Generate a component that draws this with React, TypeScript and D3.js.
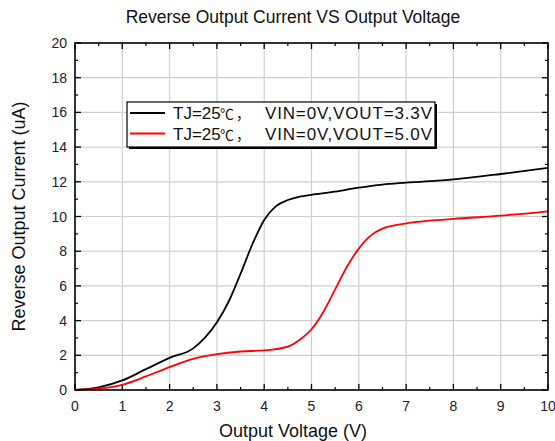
import React from 'react';
import * as d3 from 'd3';

// Output voltage (V) sample points
const voltage33 = [0, 0.5, 1, 1.5, 2, 2.5, 3, 3.25, 3.5, 3.75, 4, 4.25, 4.5, 4.75, 5, 5.5, 6, 6.5, 7, 8, 9, 10];
const current33 = [0, 0.15, 0.55, 1.2, 1.85, 2.4, 3.9, 5.1, 6.7, 8.4, 9.8, 10.6, 10.95, 11.15, 11.25, 11.43, 11.66, 11.84, 11.95, 12.14, 12.45, 12.8];

const voltage50 = [0, 0.5, 1, 1.5, 2, 2.5, 3, 3.5, 4, 4.5, 4.8, 5, 5.25, 5.5, 5.75, 6, 6.25, 6.5, 7, 8, 9, 10];
const current50 = [0, 0.08, 0.3, 0.78, 1.32, 1.8, 2.07, 2.22, 2.28, 2.5, 3.0, 3.5, 4.5, 5.8, 7.1, 8.15, 8.9, 9.3, 9.6, 9.86, 10.05, 10.3];

const xTicks = [0, 1, 2, 3, 4, 5, 6, 7, 8, 9, 10];
const yTicks = [0, 2, 4, 6, 8, 10, 12, 14, 16, 18, 20];

const seriesVout = ['3.3V', '5.0V'];
const seriesColors = ['#000000', '#ff0000'];

const W = 555;
const H = 441;
const left = 75, right = 548, top = 43, bottom = 390;

const App = () => {
    const x = d3.scaleLinear().domain([0, 10]).range([left, right]);
    const y = d3.scaleLinear().domain([0, 20]).range([bottom, top]);

    const line = d3.line<[number, number]>()
        .x(d => x(d[0]))
        .y(d => y(d[1]))
        .curve(d3.curveMonotoneX);

    const series = [
        voltage33.map((v, i) => [v, current33[i]] as [number, number]),
        voltage50.map((v, i) => [v, current50[i]] as [number, number]),
    ];

    const xMinor = d3.range(0.5, 10, 1);
    const yMinor = d3.range(1, 20, 2);
    const font = 'Arial, "Liberation Sans", sans-serif';
    const cjk = '"Noto Sans CJK SC", sans-serif';

    return (
        <svg width={W} height={H} style={{ position: 'absolute', left: 0, top: 0, background: '#fff' }}
            fontFamily={font}>
            <rect width={W} height={H} fill="#fff" />
            <text x={293} y={23} textAnchor="middle" fontSize={17.5} fill="#111">
                Reverse Output Current VS Output Voltage
            </text>

            {/* grid */}
            {xTicks.slice(1, -1).map(t => (
                <line key={'gx' + t} x1={x(t)} x2={x(t)} y1={top} y2={bottom} stroke="#cfcfcf" strokeWidth={1.2} />
            ))}
            {yTicks.slice(1, -1).map(t => (
                <line key={'gy' + t} x1={left} x2={right} y1={y(t)} y2={y(t)} stroke="#cfcfcf" strokeWidth={1.2} />
            ))}

            {/* ticks, pointing inward on all sides */}
            {xTicks.map(t => (
                <g key={'tx' + t} stroke="#000" strokeWidth={1.3}>
                    <line x1={x(t)} x2={x(t)} y1={bottom} y2={bottom - 6} />
                    <line x1={x(t)} x2={x(t)} y1={top} y2={top + 6} />
                </g>
            ))}
            {xMinor.map(t => (
                <g key={'mx' + t} stroke="#000" strokeWidth={1.2}>
                    <line x1={x(t)} x2={x(t)} y1={bottom} y2={bottom - 3} />
                    <line x1={x(t)} x2={x(t)} y1={top} y2={top + 3} />
                </g>
            ))}
            {yTicks.map(t => (
                <g key={'ty' + t} stroke="#000" strokeWidth={1.3}>
                    <line x1={left} x2={left + 6} y1={y(t)} y2={y(t)} />
                    <line x1={right} x2={right - 6} y1={y(t)} y2={y(t)} />
                </g>
            ))}
            {yMinor.map(t => (
                <g key={'my' + t} stroke="#000" strokeWidth={1.2}>
                    <line x1={left} x2={left + 3} y1={y(t)} y2={y(t)} />
                    <line x1={right} x2={right - 3} y1={y(t)} y2={y(t)} />
                </g>
            ))}

            {/* curves */}
            {series.map((s, i) => (
                <path key={'s' + i} d={line(s) || ''} fill="none" stroke={seriesColors[i]} strokeWidth={1.8} />
            ))}

            {/* frame */}
            <rect x={left} y={top} width={right - left} height={bottom - top} fill="none" stroke="#000" strokeWidth={1.6} />

            {/* tick labels */}
            {xTicks.map(t => (
                <text key={'lx' + t} x={x(t)} y={bottom + 21} textAnchor="middle" fontSize={14} fill="#222">{t}</text>
            ))}
            {yTicks.map(t => (
                <text key={'ly' + t} x={left - 8} y={y(t) + 5} textAnchor="end" fontSize={14} fill="#222">{t}</text>
            ))}

            {/* axis titles */}
            <text x={293} y={437} textAnchor="middle" fontSize={18} fill="#111">Output Voltage (V)</text>
            <text transform={`translate(25, ${(top + bottom) / 2}) rotate(-90)`} textAnchor="middle" fontSize={18} fill="#111">
                Reverse Output Current (uA)
            </text>

            {/* legend */}
            <rect x={129} y={104} width={308} height={45} fill="#000" />
            <rect x={127} y={102} width={308} height={45} fill="#fff" stroke="#000" strokeWidth={1.2} />
            {seriesVout.map((v, i) => (
                <g key={'lg' + i} fontSize={17} fill="#111">
                    <line x1={130} x2={165} y1={113 + i * 20.5} y2={113 + i * 20.5} stroke={seriesColors[i]} strokeWidth={1.8} />
                    <text x={173} y={119 + i * 20.5}>TJ=25</text>
                    <text x={220} y={119 + i * 20.5} fontFamily={cjk} fontSize={14} textLength={30} lengthAdjust="spacing">℃，</text>
                    <text x={265} y={119 + i * 20.5} textLength={167} lengthAdjust="spacing">
                        {'VIN=0V,VOUT=' + v}
                    </text>
                </g>
            ))}
        </svg>
    );
};

export default App;
